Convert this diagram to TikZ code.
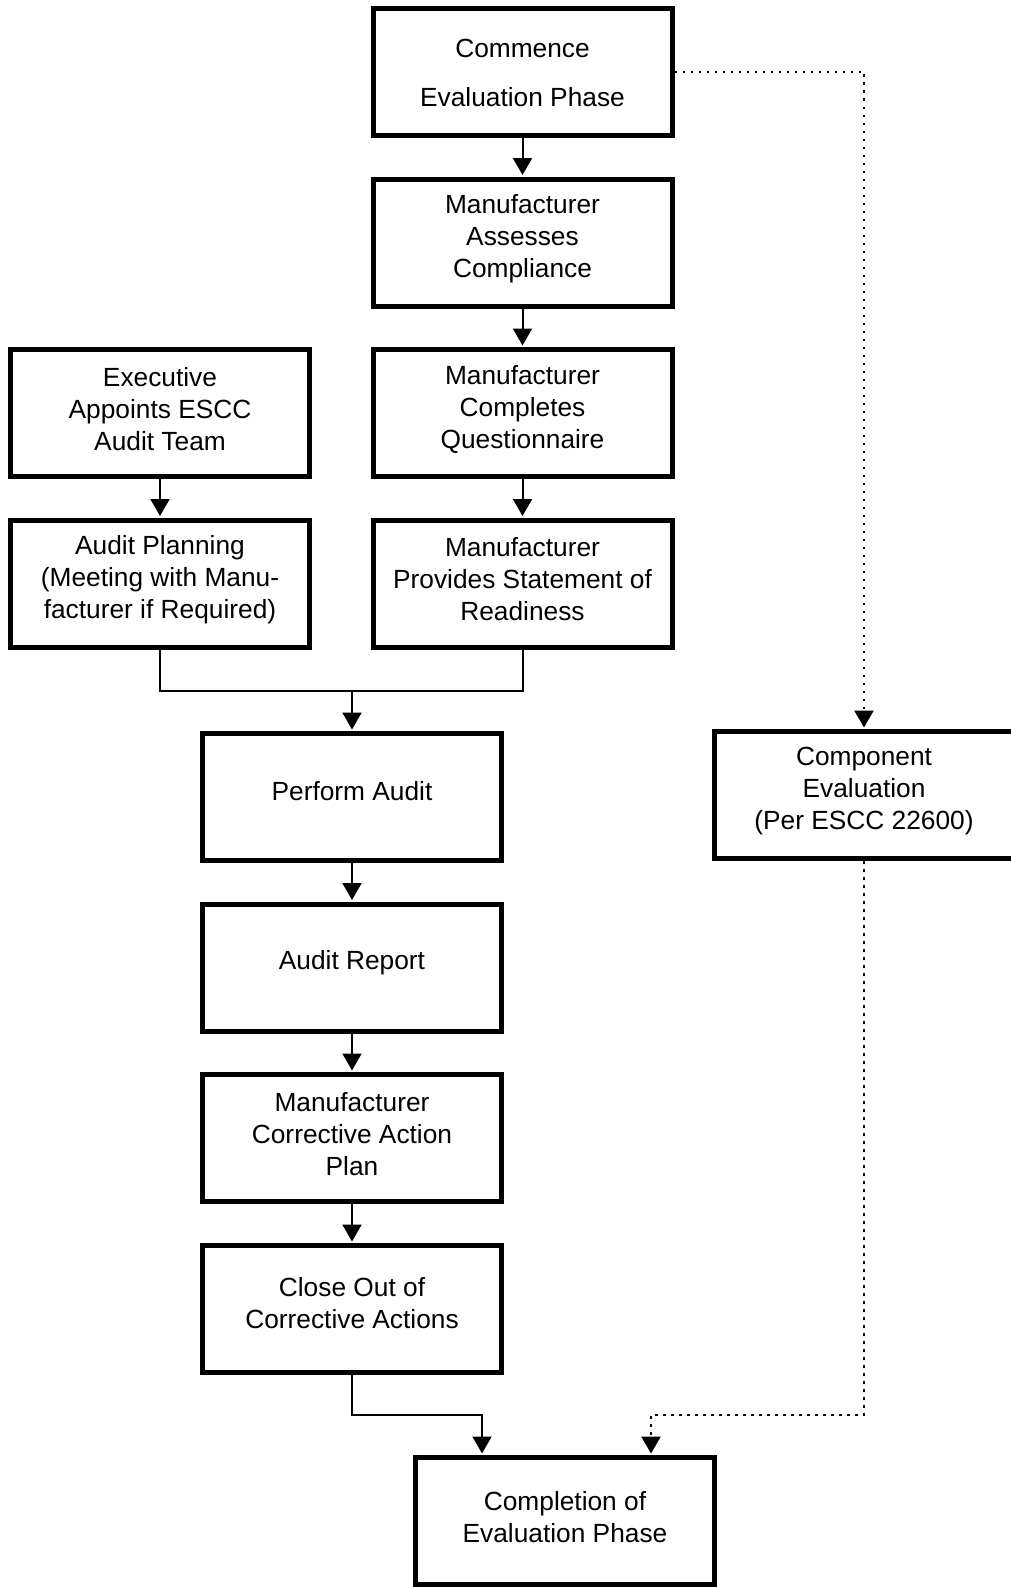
\documentclass[tikz,border=0pt]{standalone}
\usepackage{fontspec}
\setmainfont{Liberation Sans}
\usetikzlibrary{arrows.meta}
\begin{document}
\begin{tikzpicture}[x=1pt,y=-1pt,
  box/.style={draw, line width=5pt, minimum width=299pt, minimum height=127pt, inner sep=0pt},
  txt/.style={inner sep=0pt, align=center, font=\fontsize{26.3}{32}\selectfont},
  conn/.style={line width=2pt, -{Triangle[width=19pt,length=17pt]}, shorten >=1.5pt},
  plain/.style={line width=2pt},
  dotconn/.style={line width=2.6pt, dash pattern=on 2.6pt off 5.4pt, -{Triangle[width=19pt,length=17pt]}, shorten >=1.5pt}]
\clip (0,0) rectangle (1011,1587);
\fill[white] (0,0) rectangle (1011,1587);
\node[box] (commence) at (522.5,72) {};
\node[box] (assess) at (522.5,242.5) {};
\node[box] (quest) at (522.5,413) {};
\node[box] (ready) at (522.5,583.5) {};
\node[box] (exec) at (160,413) {};
\node[box] (plan) at (160,583.5) {};
\node[box] (perform) at (352,797) {};
\node[box] (report) at (352,967.5) {};
\node[box] (cap) at (352,1138) {};
\node[box] (close) at (352,1309) {};
\node[box] (complete) at (565,1521) {};
\node[box] (comp) at (864,795) {};

\node[txt] (commenceT) at ([yshift=-1pt]commence) {Commence\\[16.5pt]Evaluation Phase};
\node[txt] (assessT) at ([yshift=4pt]assess) {Manufacturer\\Assesses\\Compliance};
\node[txt] (questT) at ([yshift=4pt]quest) {Manufacturer\\Completes\\Questionnaire};
\node[txt] (readyT) at ([yshift=4pt]ready) {Manufacturer\\Provides Statement of\\Readiness};
\node[txt] (execT) at ([yshift=4pt]exec) {Executive\\Appoints ESCC\\Audit Team};
\node[txt] (planT) at ([yshift=4pt]plan) {Audit Planning\\(Meeting with Manu-\\facturer if Required)};
\node[txt] (performT) at ([yshift=6pt]perform) {Perform Audit};
\node[txt] (reportT) at ([yshift=5pt]report) {Audit Report};
\node[txt] (capT) at ([yshift=4pt]cap) {Manufacturer\\Corrective Action\\Plan};
\node[txt] (closeT) at ([yshift=6pt]close) {Close Out of\\Corrective Actions};
\node[txt] (completeT) at ([yshift=4pt]complete) {Completion of\\Evaluation Phase};
\node[txt] (compT) at ([yshift=4pt]comp) {Component\\Evaluation\\(Per ESCC 22600)};

\draw[conn] (commence) -- (assess);
\draw[conn] (assess) -- (quest);
\draw[conn] (quest) -- (ready);
\draw[conn] (exec) -- (plan);
\coordinate (mrgL) at (160,691);
\coordinate (mrgR) at (522.5,691);
\coordinate (mrg) at (352,691);
\draw[plain] (plan.south) -- (mrgL) -- (mrgR) -- (ready.south);
\draw[conn] (mrg) -- (perform.north);
\draw[conn] (perform) -- (report);
\draw[conn] (report) -- (cap);
\draw[conn] (cap) -- (close);
\coordinate (c1) at (352,1415);
\coordinate (c2) at (482,1415);
\draw[conn] (close.south) -- (c1) -- (c2) -- (c2 |- complete.north);
\coordinate (d1) at (864,72);
\draw[dotconn] (commence.east |- d1) -- (d1) -- (comp.north);
\coordinate (d2) at (864,1415);
\coordinate (d3) at (651,1415);
\draw[dotconn] (comp.south) -- (d2) -- (d3) -- (d3 |- complete.north);
\end{tikzpicture}
\end{document}
